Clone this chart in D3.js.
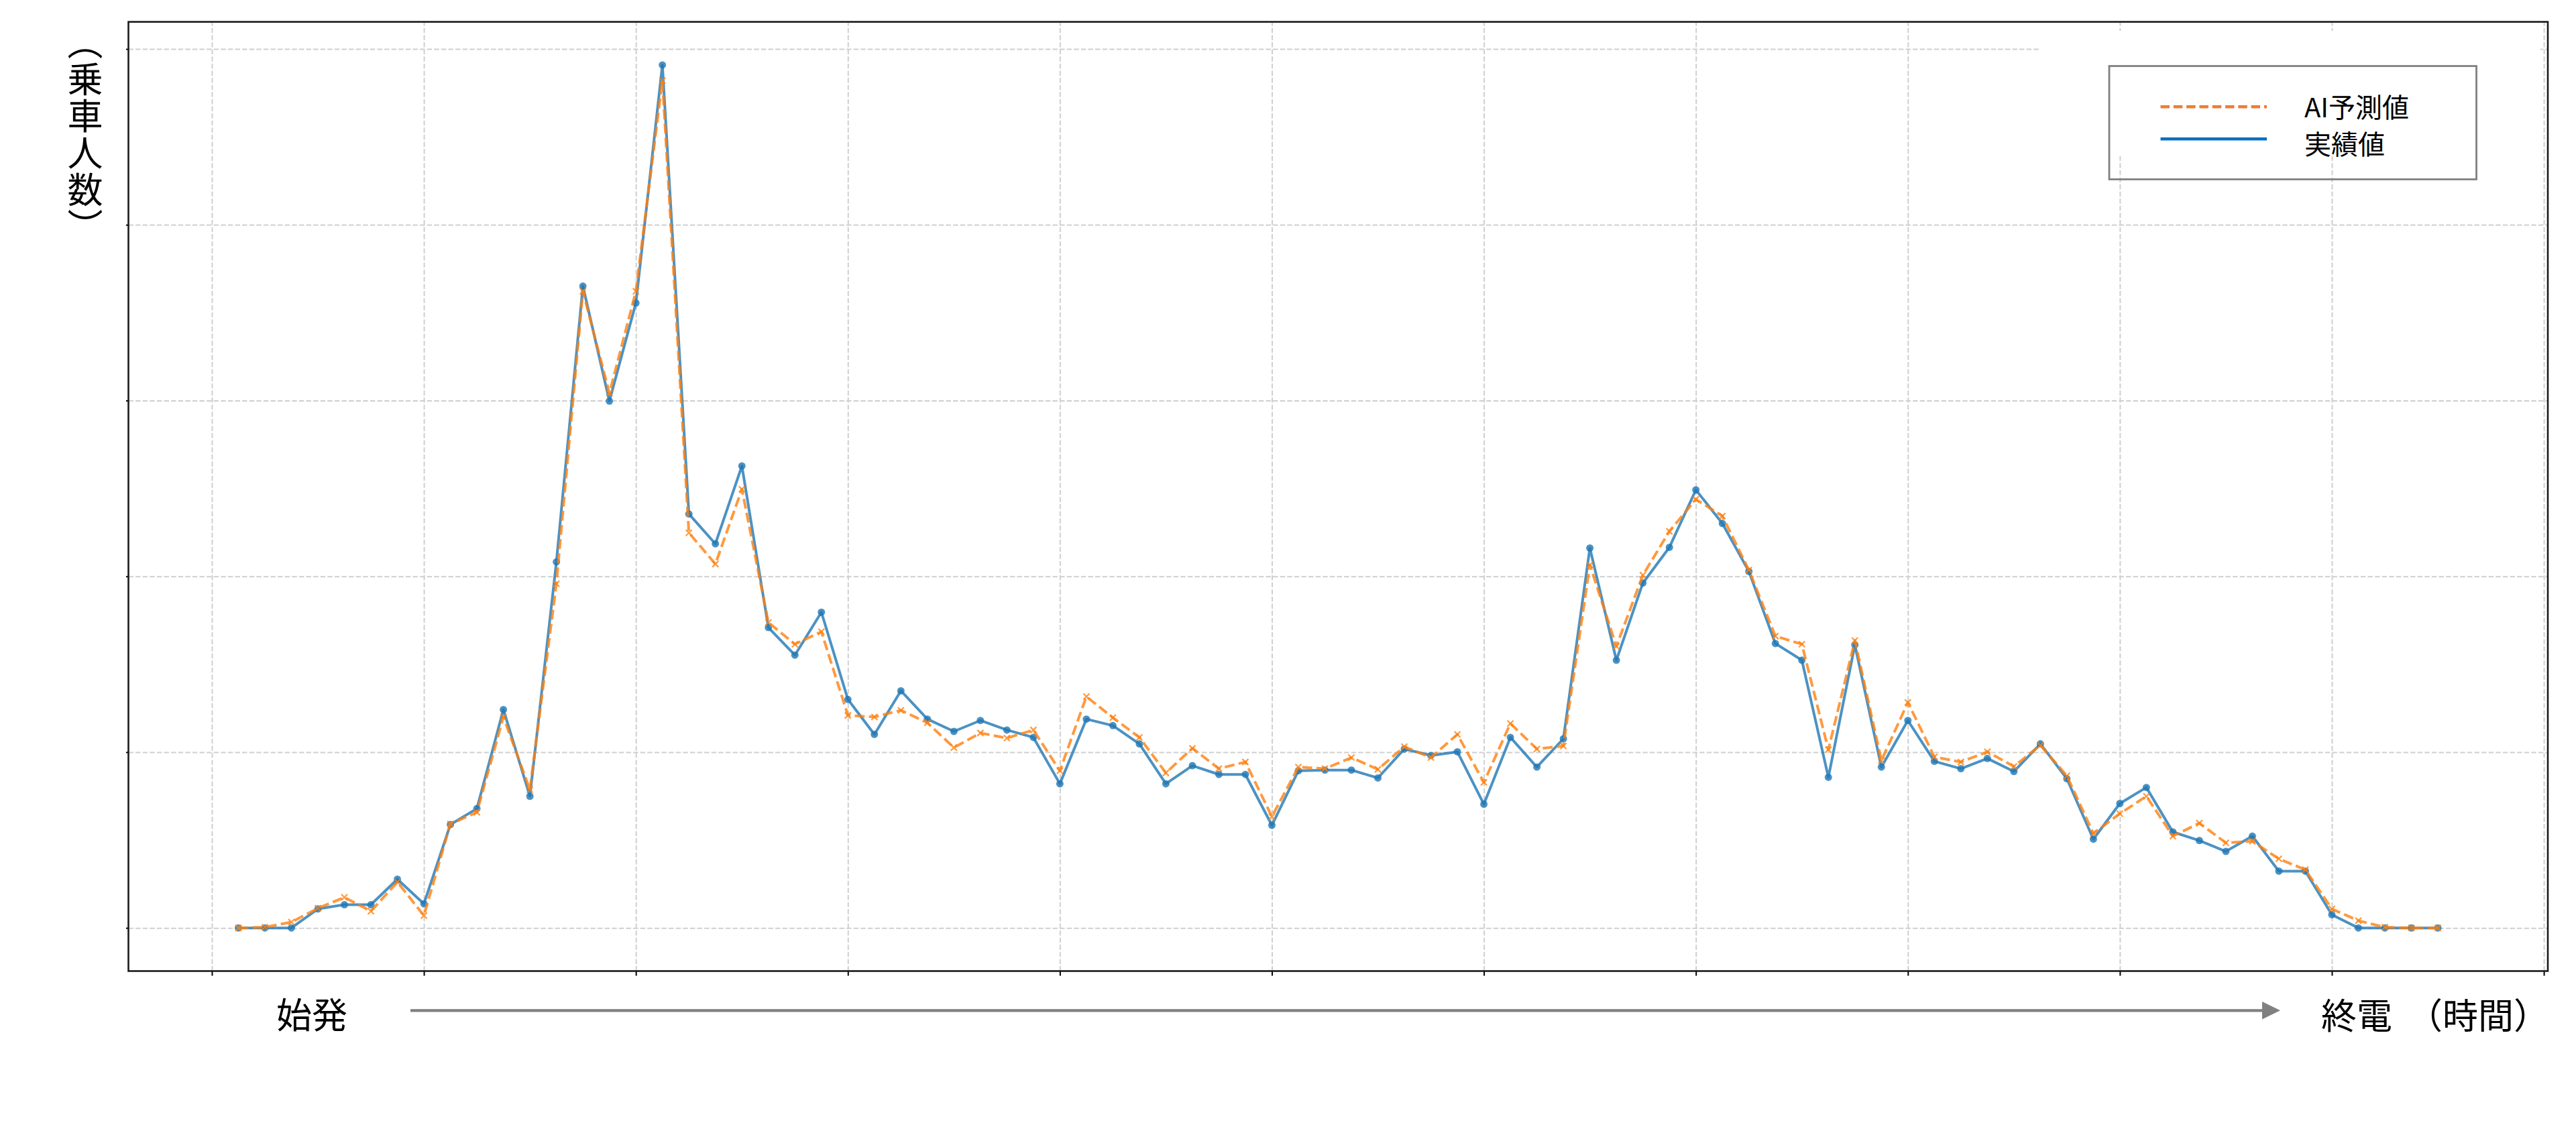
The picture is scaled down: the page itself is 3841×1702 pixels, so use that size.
<!DOCTYPE html>
<html>
<head>
<meta charset="utf-8">
<script src="https://cdn.jsdelivr.net/npm/d3@7"></script>
<style>
  html, body { margin: 0; padding: 0; background: #ffffff; }
  svg { display: block; }
  text { font-family: "Noto Sans CJK JP", "Noto Sans", sans-serif; }
</style>
</head>
<body>
<script>
// ---------------- data ----------------
const seriesNames = ["AI予測値", "実績値"];
const actual = [0,0,0,10.8,13.2,13.2,27.7,13.7,58.8,67.9,124.2,74.9,208.2,365.1,299.7,355.5,490.9,235.5,218.5,262.8,170.9,155.2,179.6,130.0,
  110.1,134.9,118.8,111.8,118.0,112.6,108.4,82.0,118.8,115.1,104.7,82.0,92.3,87.3,87.3,58.4,89.4,89.8,89.8,85.3,101.8,98.1,100.2,70.4,108.4,91.5,107.6,216.1,152.3,196.2,216.5,249.2,
  230.1,202.8,161.8,152.3,85.7,161.0,91.5,118.0,94.8,90.6,96.4,89.0,104.7,84.9,50.5,70.8,79.9,54.6,49.7,43.5,52.2,32.3,32.3,7.5,0,0,0,0];
const predicted = [0,0.4,3.3,11.2,17.4,9.5,26.1,7.0,59.2,65.8,120.0,78.6,195.8,362.2,304.2,362.2,482.0,224.8,207.0,249.6,173.8,161.4,168.5,120.9,
  120.0,123.8,116.7,102.6,110.9,108.0,112.6,89.4,131.6,119.6,108.4,88.2,102.2,90.6,94.4,63.3,91.5,90.6,96.9,90.2,103.1,96.9,110.1,82.8,116.3,101.8,103.5,206.5,160.2,200.7,225.6,243.8,
  234.3,203.6,166.0,161.4,101.4,163.5,95.2,128.3,97.3,94.4,100.2,91.9,103.9,86.5,53.8,65.0,74.9,52.2,59.6,48.4,49.3,39.3,33.1,10.8,4.1,0.4,0,0];
const xTickValues = [-1,7,15,23,31,39,47,55,63,71,79,87];
const yTickValues = [0,100,200,300,400,500];
const xStartLabel = "始発";
const xEndLabel = "終電";
const xUnitLabel = "（時間）";
const yLabel = "（乗車人数）";

// ---------------- layout ----------------
const W = 3841, H = 1702;
const plot = {left: 191.5, right: 3799, top: 32.6, bottom: 1448.5};

const svg = d3.select("body").append("svg").attr("width", W).attr("height", H);
svg.append("rect").attr("width", W).attr("height", H).attr("fill", "#ffffff");

const n = actual.length;
const xMargin = 0.05 * (n - 1);
const x = d3.scaleLinear().domain([-xMargin, (n - 1) + xMargin]).range([plot.left, plot.right]);
const yMax = d3.max(actual.concat(predicted));
const y = d3.scaleLinear().domain([-0.05 * yMax, 1.05 * yMax]).range([plot.bottom, plot.top]);

// grid
const grid = svg.append("g");
grid.append("g").attr("transform", `translate(0,${plot.bottom})`)
  .call(d3.axisBottom(x).tickValues(xTickValues).tickFormat("").tickSize(-(plot.bottom - plot.top)).tickSizeOuter(0))
  .call(g => g.select(".domain").remove())
  .call(g => g.selectAll("line").attr("stroke", "#cfcfcf").attr("stroke-width", 2).attr("stroke-dasharray", "7.4,3.2"));
grid.append("g").attr("transform", `translate(${plot.left},0)`)
  .call(d3.axisLeft(y).tickValues(yTickValues).tickFormat("").tickSize(-(plot.right - plot.left)).tickSizeOuter(0))
  .call(g => g.select(".domain").remove())
  .call(g => g.selectAll("line").attr("stroke", "#cfcfcf").attr("stroke-width", 2).attr("stroke-dasharray", "7.4,3.2"));

// white patch behind the legend area (as in reference)
svg.append("rect").attr("x", 3043).attr("y", 46).attr("width", 745).attr("height", 187).attr("fill", "#ffffff");

// lines
const line = d3.line().x((d, i) => x(i)).y(d => y(d));
const gData = svg.append("g");
gData.append("path").datum(actual).attr("d", line)
  .attr("fill", "none").attr("stroke", "#1f77b4").attr("stroke-width", 4).attr("stroke-opacity", 0.8)
  .attr("stroke-linejoin", "round");
gData.append("g").selectAll("circle").data(actual).join("circle")
  .attr("cx", (d, i) => x(i)).attr("cy", d => y(d)).attr("r", 5.5)
  .attr("fill", "#1f77b4").attr("fill-opacity", 0.8);
gData.append("path").datum(predicted).attr("d", line)
  .attr("fill", "none").attr("stroke", "#ff7f0e").attr("stroke-width", 4).attr("stroke-opacity", 0.8)
  .attr("stroke-dasharray", "14.8,6.4").attr("stroke-linejoin", "round");
const xs = 4.5;
gData.append("g").selectAll("path").data(predicted).join("path")
  .attr("d", (d, i) => {
    const cx = x(i), cy = y(d);
    return `M${cx - xs},${cy - xs}L${cx + xs},${cy + xs}M${cx - xs},${cy + xs}L${cx + xs},${cy - xs}`;
  })
  .attr("stroke", "#ff7f0e").attr("stroke-width", 2.2).attr("stroke-opacity", 0.8).attr("fill", "none");

// axes (ticks) + frame
svg.append("g").attr("transform", `translate(0,${plot.bottom})`)
  .call(d3.axisBottom(x).tickValues(xTickValues).tickFormat("").tickSize(7).tickSizeOuter(0))
  .call(g => g.select(".domain").remove())
  .call(g => g.selectAll("line").attr("stroke", "#000").attr("stroke-width", 2));
svg.append("g").attr("transform", `translate(${plot.left},0)`)
  .call(d3.axisLeft(y).tickValues(yTickValues).tickFormat("").tickSize(3.5).tickSizeOuter(0))
  .call(g => g.select(".domain").remove())
  .call(g => g.selectAll("line").attr("stroke", "#000").attr("stroke-width", 2));
svg.append("rect").attr("x", plot.left).attr("y", plot.top)
  .attr("width", plot.right - plot.left).attr("height", plot.bottom - plot.top)
  .attr("fill", "none").attr("stroke", "#1a1a1a").attr("stroke-width", 2.6);

// legend
const lg = svg.append("g");
lg.append("rect").attr("x", 3145).attr("y", 98.5).attr("width", 547.5).attr("height", 169)
  .attr("fill", "none").attr("stroke", "#808080").attr("stroke-width", 2.8);
lg.append("line").attr("x1", 3221.5).attr("x2", 3380).attr("y1", 159.3).attr("y2", 159.3)
  .attr("stroke", "#ED7D31").attr("stroke-width", 4.6).attr("stroke-dasharray", "13.5,5.8");
lg.append("line").attr("x1", 3221.5).attr("x2", 3380).attr("y1", 207.3).attr("y2", 207.3)
  .attr("stroke", "#0070C0").attr("stroke-width", 4.6);
lg.append("text").attr("x", 3436).attr("y", 157.5).attr("dominant-baseline", "central")
  .attr("font-size", 40).attr("fill", "#000").text(seriesNames[0]);
lg.append("text").attr("x", 3436).attr("y", 212.5).attr("dominant-baseline", "central")
  .attr("font-size", 40).attr("fill", "#000").text(seriesNames[1]);

// x-axis annotations
svg.append("text").attr("x", 465).attr("y", 1511).attr("text-anchor", "middle").attr("dominant-baseline", "central")
  .attr("font-size", 53).attr("fill", "#000").text(xStartLabel);
svg.append("line").attr("x1", 612).attr("x2", 3375).attr("y1", 1507.3).attr("y2", 1507.3)
  .attr("stroke", "#808080").attr("stroke-width", 4.2);
svg.append("path").attr("d", "M3373,1494L3400,1507.3L3373,1520.6Z").attr("fill", "#808080");
svg.append("text").attr("x", 3461).attr("y", 1512).attr("dominant-baseline", "central")
  .attr("font-size", 53).attr("fill", "#000").text(xEndLabel);
svg.append("text").attr("x", 3589).attr("y", 1512).attr("dominant-baseline", "central")
  .attr("font-size", 53).attr("fill", "#000").text(xUnitLabel);

// y-axis label (vertical writing)
svg.append("text").attr("x", 127).attr("y", 36.5)
  .attr("writing-mode", "vertical-rl")
  .style("text-orientation", "upright")
  .attr("letter-spacing", 2)
  .attr("font-size", 53).attr("fill", "#000").text(yLabel);
</script>
</body>
</html>
